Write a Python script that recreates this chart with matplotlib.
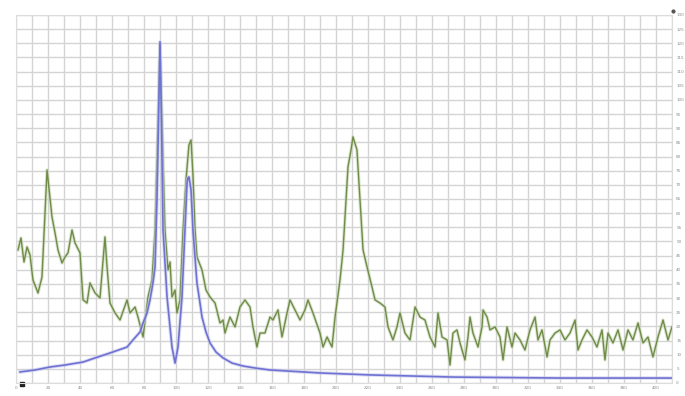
import matplotlib
matplotlib.use("Agg")
import matplotlib.pyplot as plt

# ---- data (grid units) ----
green_x = [0.125, 0.31, 0.5, 0.69, 0.875, 1.06, 1.375, 1.625, 1.94, 2.25, 2.44, 2.625, 2.875, 3.06, 3.25,
           3.5, 3.69, 4.0, 4.19, 4.44, 4.625, 4.94, 5.25, 5.56, 5.69, 5.875, 6.19, 6.5, 6.94, 7.125, 7.44,
           7.625, 7.94, 8.25, 8.5, 8.69, 8.875, 9.0, 9.125, 9.31, 9.5, 9.625, 9.75, 9.94, 10.06, 10.25,
           10.44, 10.625, 10.81, 10.94, 11.06, 11.19, 11.31, 11.625, 11.875, 12.125, 12.44, 12.75, 12.94,
           13.06, 13.375, 13.69, 14.0, 14.31, 14.625, 14.81, 15.06, 15.25, 15.56, 15.875, 16.06, 16.375,
           16.625, 16.94, 17.125, 17.44, 17.75, 18.06, 18.25, 18.56, 19.0, 19.19, 19.44, 19.75, 19.94,
           20.25, 20.44, 20.75, 20.94, 21.06, 21.31, 21.5, 21.69, 21.94, 22.25, 22.44, 22.75, 23.06, 23.25,
           23.56, 23.81, 24.0, 24.31, 24.625, 24.94, 25.25, 25.56, 25.875, 26.19, 26.375, 26.625, 26.94,
           27.125, 27.31, 27.56, 27.75, 28.06, 28.25, 28.375, 28.56, 28.875, 29.125, 29.19, 29.44, 29.625,
           29.94, 30.25, 30.44, 30.69, 31.0, 31.19, 31.5, 31.81, 32.125, 32.44, 32.625, 32.875, 33.19,
           33.375, 33.69, 34.0, 34.31, 34.625, 34.94, 35.125, 35.375, 35.69, 36.0, 36.31, 36.625, 36.81,
           37.0, 37.31, 37.625, 37.94, 38.25, 38.56, 38.875, 39.19, 39.5, 39.81, 40.125, 40.44, 40.75, 41.0]
green_y = [9.40, 10.25, 8.55, 9.61, 9.05, 7.28, 6.36, 7.49, 15.05, 11.73, 10.60, 9.40, 8.48, 8.90, 9.19,
           10.81, 9.89, 9.19, 5.87, 5.65, 7.07, 6.36, 6.01, 10.32, 8.20, 5.65, 4.95, 4.45, 5.87, 4.95, 5.37,
           4.66, 3.25, 6.08, 7.28, 10.81, 18.59, 23.89, 18.59, 10.81, 7.99, 8.55, 6.08, 6.57, 4.95, 5.87,
           10.81, 14.35, 16.82, 17.17, 14.70, 10.81, 8.90, 7.99, 6.57, 6.08, 5.65, 4.24, 4.45,
           3.53, 4.66, 3.96, 5.37, 5.87, 5.37, 3.96, 2.54, 3.53, 3.53, 4.66, 4.45, 5.16,
           3.25, 4.95, 5.87, 5.16, 4.45, 5.16, 5.87, 4.95, 3.53, 2.54, 3.25, 2.54, 4.66,
           7.28, 9.40, 15.27, 16.47, 17.39, 16.47, 12.93, 9.40, 8.20, 6.78, 5.87, 5.65, 5.37, 3.96,
           3.04, 3.96, 4.95, 3.53, 3.04, 5.37, 4.66, 4.45, 3.25, 2.54, 4.95, 3.25, 3.04,
           1.27, 3.53, 3.75, 2.83, 1.63, 3.25, 4.66, 3.53, 2.54, 3.96, 5.16, 4.66, 3.75,
           3.96, 3.25, 1.63, 3.96, 2.54, 3.53, 3.04, 2.33, 3.75, 4.66, 3.04, 3.75, 1.84,
           3.04, 3.53, 3.75, 3.04, 3.53, 4.45, 2.33, 3.04, 3.75, 3.25, 2.54, 3.75, 1.63,
           3.53, 2.83, 3.75, 2.33, 3.75, 3.04, 4.24, 2.83, 3.25, 1.84, 3.25, 4.45, 3.04, 3.96]

blue_x = [0.25, 1.19, 2.125, 3.06, 4.19, 4.94, 5.875, 6.94, 7.31, 7.75, 7.94, 8.19, 8.375, 8.56, 8.69,
          8.81, 8.91, 9.0, 9.09, 9.19, 9.44, 9.75, 9.94, 10.125, 10.375, 10.56, 10.69, 10.75, 10.81,
          10.94, 11.06, 11.31, 11.5, 11.625, 11.875, 12.125, 12.5, 12.94, 13.5, 14.19, 14.94,
          15.875, 19.0, 22.125, 27.31, 34.0, 41.0]
blue_y = [0.78, 0.92, 1.13, 1.27, 1.48, 1.77, 2.12, 2.54, 3.04, 3.60, 4.24, 4.95, 5.87, 7.07, 8.20,
          12.93, 18.59, 24.10, 18.59, 10.81, 6.08, 2.54, 1.41, 2.54, 6.08, 10.81, 14.13, 14.49, 14.56,
          13.64, 10.81, 7.07, 5.65, 4.66, 3.60, 2.83, 2.19, 1.77, 1.41, 1.20, 1.06,
          0.92, 0.71, 0.57, 0.42, 0.35, 0.35]

x_ticks = list(range(0, 42, 2))
x_tick_labels = [str(v) for v in range(0, 420, 20)]
y_ticks = list(range(0, 27))
y_tick_labels = [str(v) for v in range(0, 131, 5)]

# ---- figure ----
W, H = 685, 396
fig = plt.figure(figsize=(W / 100, H / 100), dpi=100)
ax = fig.add_axes([16 / W, (H - 383) / H, (672 - 16) / W, (383 - 15) / H])
ax.set_xlim(0, 41)
ax.set_ylim(0, 26)

ax.set_xticks(range(0, 42))
ax.set_yticks(y_ticks)
ax.grid(True, color="#d4d4d4", lw=1.0)
for s in ax.spines.values():
    s.set_color("#dcdcdc")
    s.set_linewidth(0.8)

ax.tick_params(axis="both", length=0, labelsize=3, labelcolor="#8a8a8a")
ax.yaxis.tick_right()
ax.set_yticklabels(y_tick_labels)
ax.set_xticklabels([x_tick_labels[i // 2] if i % 2 == 0 else "" for i in range(0, 42)])
ax.tick_params(axis="x", pad=2)
ax.tick_params(axis="y", pad=3)

# lines
ax.plot(green_x, green_y, color="#c3d3ae", lw=2.4, alpha=0.6, solid_joinstyle="round")
ax.plot(green_x, green_y, color="#6f8c48", lw=1.0, solid_joinstyle="round")
ax.plot(blue_x, blue_y, color="#c4c6ec", lw=2.6, alpha=0.6, solid_joinstyle="round")
ax.plot(blue_x, blue_y, color="#6f72d2", lw=1.2, solid_joinstyle="round")

# small markers at corners
ax.plot([0.35], [-0.1], marker="s", ms=2.5, color="#222222", clip_on=False)
ax.plot([41.05], [26.3], marker="o", ms=2, color="#555555", clip_on=False)

fig.savefig("out.png", dpi=100)
